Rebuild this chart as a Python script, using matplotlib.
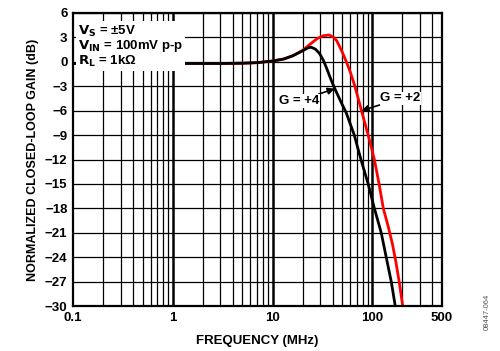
import numpy as np
import matplotlib.pyplot as plt
from matplotlib.ticker import FixedLocator, NullFormatter

plt.rcParams['font.family'] = ['Liberation Sans', 'DejaVu Sans']
plt.rcParams['font.weight'] = 'bold'

# G = +2 (red)
freq_g2 = [0.1, 0.5, 1, 2, 3, 5, 7, 10, 13, 16, 20, 24, 28, 32, 37, 41, 44, 50, 55, 60, 67, 78, 91, 105, 117, 129, 145, 160, 172, 186, 202]
gain_g2 = [-0.2, -0.2, -0.2, -0.2, -0.2, -0.17, -0.1, 0.1, 0.35, 0.75, 1.4, 2.2, 2.85, 3.2, 3.3, 3.0, 2.6, 1.2, 0.0, -1.2, -3.0, -6.0, -9.0, -12.0, -15.0, -18.0, -20.3, -22.5, -24.5, -27.0, -30]

# G = +4 (black)
freq_g4 = [0.1, 0.5, 1, 2, 3, 5, 7, 10, 13, 16, 20, 22.5, 24.4, 27, 29.5, 32, 34.4, 38.6, 42.5, 48, 55, 66, 77, 91, 105, 123, 138, 155, 170]
gain_g4 = [-0.2, -0.2, -0.2, -0.2, -0.2, -0.17, -0.1, 0.1, 0.35, 0.75, 1.35, 1.7, 1.8, 1.55, 1.05, 0.3, -0.6, -2.2, -3.4, -4.8, -6.3, -9.0, -12.0, -15.0, -18.0, -21.0, -24.0, -27.0, -30]

y_ticks = list(range(6, -31, -3))
x_ticks = [0.1, 1, 10, 100, 500]
x_labels = ['0.1', '1', '10', '100', '500']

fig = plt.figure(figsize=(5, 3.51), dpi=100)
ax = fig.add_axes([0.146, 0.128, 0.738, 0.835])

ax.set_xscale('log')
ax.set_xlim(0.1, 500)
ax.set_ylim(-30, 6)

minor = [m * 10.0 ** d for d in range(-1, 3) for m in range(2, 10) if m * 10.0 ** d < 500]
for f in minor:
    ax.axvline(f, color='black', linewidth=0.9, zorder=1)
for f in [1, 10, 100]:
    ax.axvline(f, color='black', linewidth=1.8, zorder=1)
for v in y_ticks:
    ax.axhline(v, color='black', linewidth=0.9, zorder=1)

ax.plot(freq_g2, gain_g2, color='#ff0000', linewidth=2.0, zorder=3)
ax.plot(freq_g4, gain_g4, color='black', linewidth=2.0, zorder=4)

ax.xaxis.set_major_locator(FixedLocator(x_ticks))
ax.set_xticklabels(x_labels)
ax.xaxis.set_minor_formatter(NullFormatter())
ax.set_yticks(y_ticks)
ax.set_yticklabels([str(v).replace('-', '\u2212') for v in y_ticks])
ax.tick_params(which='both', length=0, labelsize=9.5, pad=4)
for lab in ax.get_xticklabels() + ax.get_yticklabels():
    lab.set_fontweight('bold')
for s in ax.spines.values():
    s.set_linewidth(1.6)
    s.set_zorder(5)

ax.set_xlabel('FREQUENCY (MHz)', fontsize=9.5, fontweight='bold', labelpad=8)
ax.set_ylabel('NORMALIZED CLOSED-LOOP GAIN (dB)', fontsize=9, fontweight='bold', labelpad=4)

ax.text(0.112, 4.7, '$\\mathbf{V_S}$ = \u00b15V\n$\\mathbf{V_{IN}}$ = 100mV p-p\n$\\mathbf{R_L}$ = 1k\u03a9',
        fontsize=9.5, fontweight='bold', va='top', ha='left', linespacing=0.95, zorder=6,
        bbox=dict(facecolor='white', edgecolor='none', pad=1.5))

ax.annotate('G = +4', xy=(42, -3.3), xytext=(11.5, -4.8), fontsize=9.5, fontweight='bold',
            ha='left', va='center', zorder=6,
            bbox=dict(facecolor='white', edgecolor='none', pad=0.5),
            arrowprops=dict(arrowstyle='-|>', color='black', linewidth=1.2, mutation_scale=10,
                            shrinkA=0, shrinkB=0))
ax.annotate('G = +2', xy=(78, -6.0), xytext=(120, -4.5), fontsize=9.5, fontweight='bold',
            ha='left', va='center', zorder=6,
            bbox=dict(facecolor='white', edgecolor='none', pad=0.5),
            arrowprops=dict(arrowstyle='-|>', color='black', linewidth=1.2, mutation_scale=10,
                            shrinkA=0, shrinkB=0))

fig.text(0.975, 0.06, '08447-064', rotation=90, fontsize=5.5, color='#555555',
         fontweight='normal', ha='center', va='bottom')

fig.savefig('out.png', dpi=100)
